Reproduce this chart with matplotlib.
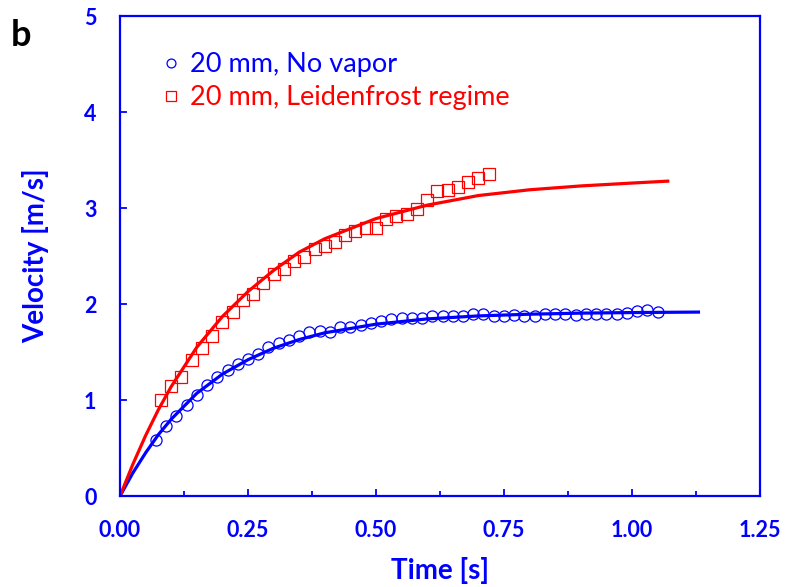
import numpy as np
from matplotlib import pyplot as plt

# measured points, 20 mm sphere without vapour layer
t_novapor = [0.07, 0.09, 0.11, 0.13, 0.15, 0.17, 0.19, 0.21, 0.23, 0.25,
             0.27, 0.29, 0.31, 0.33, 0.35, 0.37, 0.39, 0.41, 0.43, 0.45,
             0.47, 0.49, 0.51, 0.53, 0.55, 0.57, 0.59, 0.61, 0.63, 0.65,
             0.67, 0.69, 0.71, 0.73, 0.75, 0.77, 0.79, 0.81, 0.83, 0.85,
             0.87, 0.89, 0.91, 0.93, 0.95, 0.97, 0.99, 1.01, 1.03, 1.05]
v_novapor = [0.58, 0.73, 0.83, 0.95, 1.05, 1.16, 1.24, 1.31, 1.38, 1.43,
             1.48, 1.55, 1.59, 1.63, 1.67, 1.71, 1.72, 1.71, 1.76, 1.76,
             1.78, 1.80, 1.82, 1.84, 1.85, 1.85, 1.85, 1.88, 1.87, 1.87,
             1.88, 1.90, 1.90, 1.87, 1.87, 1.89, 1.88, 1.87, 1.90, 1.90,
             1.90, 1.89, 1.90, 1.90, 1.90, 1.90, 1.91, 1.93, 1.94, 1.92]

# measured points, 20 mm sphere in Leidenfrost regime
t_leiden = [0.08, 0.10, 0.12, 0.14, 0.16, 0.18, 0.20, 0.22, 0.24, 0.26,
            0.28, 0.30, 0.32, 0.34, 0.36, 0.38, 0.40, 0.42, 0.44, 0.46,
            0.48, 0.50, 0.52, 0.54, 0.56, 0.58, 0.60, 0.62, 0.64, 0.66,
            0.68, 0.70, 0.72]
v_leiden = [1.00, 1.15, 1.24, 1.42, 1.54, 1.67, 1.81, 1.92, 2.04, 2.10,
            2.22, 2.31, 2.36, 2.45, 2.49, 2.57, 2.60, 2.65, 2.72, 2.76,
            2.79, 2.79, 2.89, 2.92, 2.94, 2.99, 3.08, 3.18, 3.19, 3.22,
            3.27, 3.31, 3.35]

# fitted curves
t_fit_novapor = [0.0, 0.025, 0.05, 0.075, 0.1, 0.15, 0.2, 0.25, 0.3, 0.35,
                 0.4, 0.5, 0.6, 0.7, 0.8, 0.9, 1.0, 1.13]
v_fit_novapor = [0.0, 0.24, 0.45, 0.64, 0.80, 1.07, 1.27, 1.42, 1.54, 1.63,
                 1.70, 1.79, 1.845, 1.876, 1.894, 1.905, 1.911, 1.916]
t_fit_leiden = [0.0, 0.025, 0.05, 0.075, 0.1, 0.15, 0.2, 0.25, 0.3, 0.35,
                0.4, 0.5, 0.6, 0.7, 0.8, 0.9, 1.0, 1.07]
v_fit_leiden = [0.0, 0.33, 0.63, 0.90, 1.14, 1.55, 1.87, 2.13, 2.35, 2.54,
                2.68, 2.89, 3.03, 3.13, 3.19, 3.23, 3.26, 3.28]

blue = '#0000ff'
red = '#ff0000'
plt.rcParams['font.family'] = ['Lato', 'DejaVu Sans']

fig = plt.figure(figsize=(7.85, 5.87), dpi=100)
ax = fig.add_axes([0.1529, 0.155, 0.968 - 0.1529, 0.9727 - 0.155])

ax.plot(t_novapor, v_novapor, 'o', ms=8, mfc='none', mec=blue, mew=0.9,
        label='20 mm, No vapor')
ax.plot(t_leiden, v_leiden, 's', ms=8.5, mfc='none', mec=red, mew=0.9,
        label='20 mm, Leidenfrost regime')
ax.plot(t_fit_novapor, v_fit_novapor, color=blue, lw=2.3)
ax.plot(t_fit_leiden, v_fit_leiden, color=red, lw=2.3)

ax.set_xlim(0, 1.25)
ax.set_ylim(0, 5)
ax.set_xticks(np.arange(0, 1.26, 0.25))
ax.set_xticks(np.arange(0.125, 1.25, 0.25), minor=True)
ax.set_yticks(range(0, 6))
ax.set_xticklabels(['%.2f' % x for x in np.arange(0, 1.26, 0.25)])

for s in ax.spines.values():
    s.set_color(blue)
    s.set_linewidth(1.6)
ax.tick_params(which='both', direction='in', color=blue, width=1.3,
               labelcolor=blue, labelsize=15.5)
ax.tick_params(which='major', length=5)
ax.tick_params(which='minor', length=3.5)
ax.tick_params(axis='x', pad=17)
ax.tick_params(axis='y', pad=17)
for lab in ax.get_xticklabels() + ax.get_yticklabels():
    lab.set_fontweight('bold')

ax.set_xlabel('Time [s]', color=blue, fontsize=20, fontweight='bold', labelpad=12)
ax.set_ylabel('Velocity [m/s]', color=blue, fontsize=20, fontweight='bold', labelpad=25)

leg = ax.legend(loc='upper left', bbox_to_anchor=(0.041, 0.947), frameon=False,
                fontsize=19.5, handletextpad=0.2, handlelength=1.0,
                markerscale=0.8, labelspacing=0.3, borderaxespad=0)
for txt, c in zip(leg.get_texts(), [blue, red]):
    txt.set_color(c)

fig.text(0.014, 0.922, 'b', fontsize=26, fontweight='bold', color='black')

fig.savefig('out.png', dpi=100)
